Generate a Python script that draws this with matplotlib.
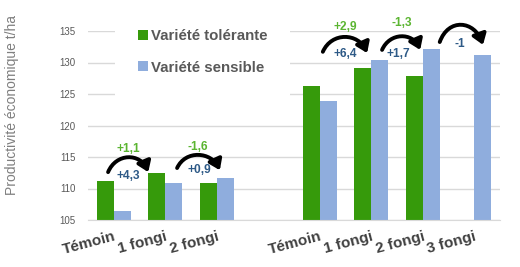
import matplotlib
matplotlib.use("Agg")
import matplotlib.pyplot as plt
from matplotlib.patches import FancyArrowPatch
from matplotlib.path import Path
import numpy as np

plt.rcParams['font.family'] = ['Liberation Sans', 'DejaVu Sans']

# ---- data ----
categories = ["Témoin", "1 fongi", "2 fongi", "", "Témoin", "1 fongi", "2 fongi", "3 fongi"]
tolerante = [111.2, 112.4, 110.8, np.nan, 126.2, 129.1, 127.8, np.nan]
sensible = [106.5, 110.8, 111.7, np.nan, 123.9, 130.4, 132.2, 131.2]
series_names = ["Variété tolérante", "Variété sensible"]
ylabel = "Productivité économique t/ha"
yticks = [105, 110, 115, 120, 125, 130, 135]

# curved arrows: (x_start, y_start, x_end, y_end, arc height)
arrows = [(-0.11, 112.6, 0.67, 112.6, 2.3),
          (1.23, 113.25, 2.06, 112.9, 2.2),
          (4.06, 131.7, 4.92, 131.5, 2.4),
          (5.21, 132.0, 5.95, 132.0, 2.1),
          (6.33, 133.25, 7.17, 132.8, 2.9)]
green_labels = [("+1,1", 0.28, 116.3), ("-1,6", 1.64, 116.6),
                ("+2,9", 4.49, 135.6), ("-1,3", 5.60, 136.3)]
blue_labels = [("+4,3", 0.28, 112.0), ("+0,9", 1.66, 112.9),
               ("+6,4", 4.49, 131.4), ("+1,7", 5.53, 131.4), ("-1", 6.72, 132.9)]

c_green = "#369A0B"
c_blue = "#8FADDD"
c_green_txt = "#5BB531"
c_blue_txt = "#2E5A87"

fig = plt.figure(figsize=(5.2, 2.67), dpi=100)
ax = fig.add_axes([88/520, 47/267, 412/520, 189/267])

x = np.arange(len(categories))
w = 0.33
ax.bar(x - w/2, tolerante, w, color=c_green, label=series_names[0], zorder=2)
ax.bar(x + w/2, sensible, w, color=c_blue, label=series_names[1], zorder=2)

ax.set_ylim(105, 135)
ax.set_xlim(-0.5, len(categories) - 0.5)
ax.set_yticks(yticks)
ax.yaxis.grid(True, color="#D9D9D9", lw=1, zorder=0)
ax.set_axisbelow(True)
for s in ["left", "right", "top"]:
    ax.spines[s].set_visible(False)
ax.spines["bottom"].set_color("#D9D9D9")
ax.tick_params(axis="y", length=0, pad=9, labelsize=7, labelcolor="#595959")
ax.tick_params(axis="x", length=0, pad=7)

tick_pos = [i for i, c in enumerate(categories) if c]
ax.set_xticks(tick_pos)
ax.set_xticklabels([categories[i] for i in tick_pos], rotation=15, ha="right",
                   rotation_mode="anchor", fontsize=11, fontweight="bold", color="#404040")

fig.text(12/520, 1 - 105/267, ylabel, rotation=90, ha="center", va="center",
         fontsize=10, color="#7F7F7F")

leg = ax.legend(loc="upper left", bbox_to_anchor=((115-88)/412, (220-6)/189),
                frameon=True, framealpha=1, facecolor="white", edgecolor="none",
                prop={"weight": "bold", "size": 10.8},
                handlelength=0.67, handleheight=0.67, handletextpad=0.15,
                labelspacing=1.15, borderaxespad=0, borderpad=1.55)
for t in leg.get_texts():
    t.set_color("#595959")
leg.set_zorder(3)

for (x0, y0, x1, y1, h) in arrows:
    dx = x1 - x0
    c = h / 0.75
    verts = [(x0, y0), (x0 + 0.2 * dx, y0 + c), (x1 - 0.2 * dx, y1 + c), (x1, y1)]
    path = Path(verts, [Path.MOVETO, Path.CURVE4, Path.CURVE4, Path.CURVE4])
    arr = FancyArrowPatch(path=path, arrowstyle="-|>,head_length=0.6,head_width=0.42",
                          mutation_scale=10, lw=2.8, color="black",
                          transform=ax.transData, clip_on=False, zorder=5,
                          shrinkA=0, shrinkB=0)
    ax.add_patch(arr)

for (t, xx, yy) in green_labels:
    ax.text(xx, yy, t, ha="center", va="center", fontsize=8.6, fontweight="bold",
            color=c_green_txt, clip_on=False, zorder=6)
for (t, xx, yy) in blue_labels:
    ax.text(xx, yy, t, ha="center", va="center", fontsize=8.6, fontweight="bold",
            color=c_blue_txt, clip_on=False, zorder=6)

fig.savefig("out.png", dpi=100)
